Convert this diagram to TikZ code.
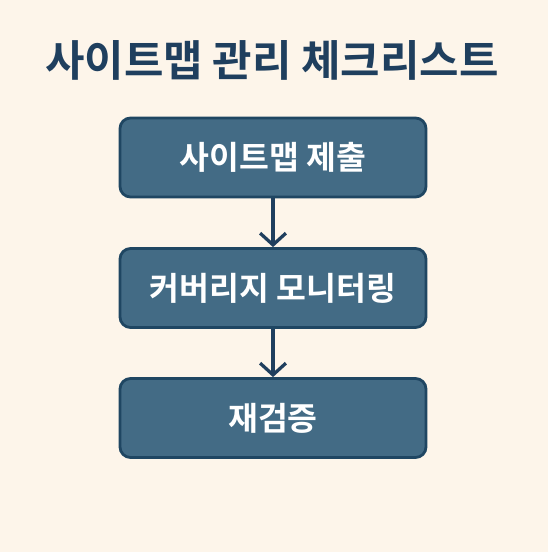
\documentclass[tikz,border=0pt]{standalone}
\usepackage{fontspec}
\setmainfont{Noto Sans CJK KR}
\newfontfamily\krbold{Noto Sans CJK KR Bold}
\usetikzlibrary{arrows.meta,positioning}
\definecolor{bgcream}{HTML}{FDF5EA}
\definecolor{boxfill}{HTML}{436B85}
\definecolor{boxline}{HTML}{1F4662}
\definecolor{titleblue}{HTML}{1F3F5E}

\begin{document}
\begin{tikzpicture}[
  x=0.03cm, y=-0.03cm,
  stepbox/.style={rectangle, draw=boxline, fill=boxfill, line width=2.4pt,
    rounded corners=9pt, minimum width=9.18cm, minimum height=2.37cm,
    text=white, font=\krbold\fontsize{27.7}{32}\selectfont},
  title/.style={text=titleblue, font=\krbold\fontsize{36.6}{42}\selectfont},
  flow/.style={draw=titleblue, line width=2.8pt, -{Straight Barb[length=10pt,width=22pt,line width=2.8pt]}}
]
  \fill[bgcream] (0,0) rectangle (548,552);
  \useasboundingbox (0,0) rectangle (548,552);

  \node[title] (head) at (272,60) {사이트맵 관리 체크리스트};

  \node[stepbox] (submit) at (273,157.5) {사이트맵 제출};
  \node[stepbox] (cover) at (273,288) {커버리지 모니터링};
  \node[stepbox] (verify) at (273,418) {재검증};

  \draw[flow] (submit) -- (cover);
  \draw[flow] (cover) -- (verify);
\end{tikzpicture}
\end{document}
